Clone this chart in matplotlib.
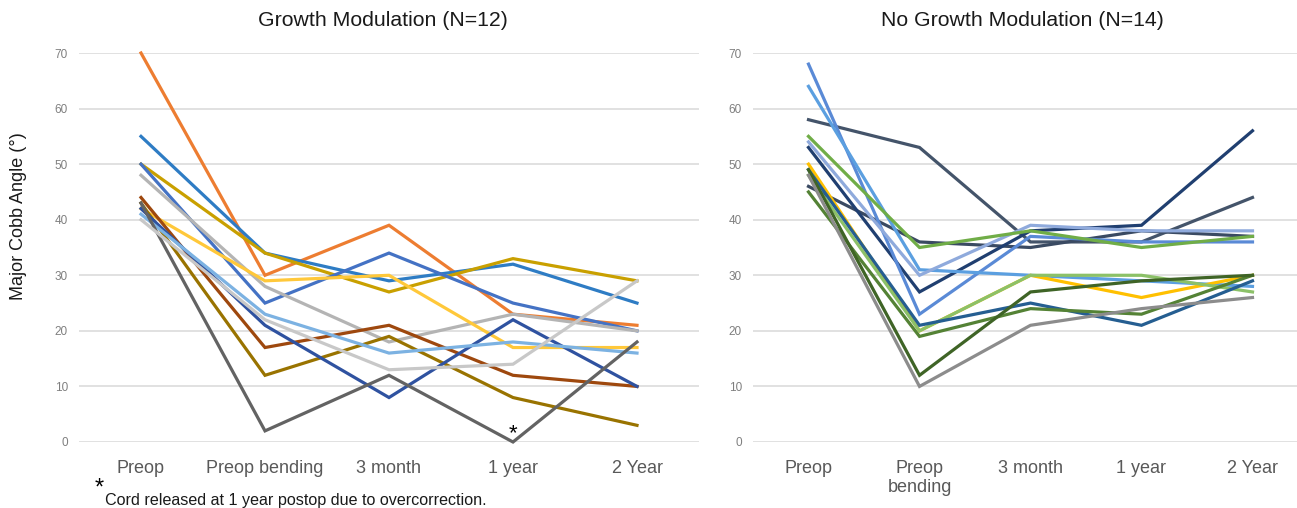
import matplotlib
matplotlib.use("Agg")
import matplotlib.pyplot as plt

plt.rcParams['font.family'] = ['Liberation Sans', 'DejaVu Sans']

# ---------------- data ----------------
timepoints_left = ["Preop", "Preop bending", "3 month", "1 year", "2 Year"]
timepoints_right = ["Preop", "Preop\nbending", "3 month", "1 year", "2 Year"]

# Growth Modulation (N=12)
gm_orange     = [70, 30, 39, 23, 21]
gm_blue       = [55, 34, 29, 32, 25]
gm_gold       = [50, 34, 27, 33, 29]
gm_royal      = [50, 25, 34, 25, 20]
gm_gray       = [48, 28, 18, 23, 20]
gm_yellow     = [42, 29, 30, 17, 17]
gm_brown      = [44, 17, 21, 12, 10]
gm_olive      = [43, 12, 19, 8, 3]
gm_darkblue   = [42, 21, 8, 22, 10]
gm_lightblue  = [41, 23, 16, 18, 16]
gm_darkgray   = [43, 2, 12, 0, 18]
gm_silver     = [40, 22, 13, 14, 29]

gm_series = [gm_orange, gm_blue, gm_gold, gm_royal, gm_gray, gm_yellow,
             gm_brown, gm_olive, gm_darkblue, gm_lightblue, gm_darkgray, gm_silver]
gm_colors = ["#ED7D31", "#2E7CC4", "#C9A000", "#4472C4", "#B4B4B4", "#FFC83A",
             "#9E480E", "#997300", "#2F52A0", "#7CB2E2", "#636363", "#C8C8C8"]

# No Growth Modulation (N=14)
ngm_blue68     = [68, 23, 37, 36, 36]
ngm_blue64     = [64, 31, 30, 29, 28]
ngm_slateA     = [58, 53, 36, 36, 44]
ngm_slateB     = [46, 36, 35, 38, 37]
ngm_navy       = [53, 27, 38, 39, 56]
ngm_lavender   = [54, 30, 39, 38, 38]
ngm_green      = [55, 35, 38, 35, 37]
ngm_yellow     = [50, 20, 30, 26, 30]
ngm_lightgreen = [48, 20, 30, 30, 27]
ngm_steel      = [49, 21, 25, 21, 29]
ngm_green2     = [45, 19, 24, 23, 30]
ngm_darkgreen  = [49, 12, 27, 29, 30]
ngm_gray       = [48, 10, 21, 24, 26]

ngm_series = [ngm_slateA, ngm_slateB, ngm_navy, ngm_blue68, ngm_blue64, ngm_lavender,
              ngm_green, ngm_yellow, ngm_lightgreen, ngm_steel, ngm_green2,
              ngm_darkgreen, ngm_gray]
ngm_colors = ["#44546A", "#3A4A62", "#203F70", "#5A8AD6", "#5B9FE0", "#8FAADC",
              "#70AD47", "#FFC000", "#8CC168", "#255E91", "#548235",
              "#3F6426", "#8C8C8C"]

# ---------------- figure ----------------
W, H = 1297, 508
fig = plt.figure(figsize=(W / 100, H / 100), dpi=100)


def px_axes(x0, x1, y_top, y_bot):
    return fig.add_axes([x0 / W, 1 - y_bot / H, (x1 - x0) / W, (y_bot - y_top) / H])


def style(ax, labels):
    ax.set_ylim(0, 70)
    ax.set_xlim(-0.5, len(labels) - 0.5)
    ax.set_yticks(range(0, 71, 10))
    ax.yaxis.grid(True, color="#D9D9D9", linewidth=1.1)
    ax.set_axisbelow(True)
    for s in ax.spines.values():
        s.set_visible(False)
    ax.tick_params(axis="both", length=0)
    ax.tick_params(axis="y", labelsize=8.5, labelcolor="#7F7F7F", pad=8)
    ax.tick_params(axis="x", labelsize=13, labelcolor="#595959", pad=13)
    ax.set_xticks(range(len(labels)))
    ax.set_xticklabels(labels)
    for t in ax.get_xticklabels():
        t.set_verticalalignment("top")
        t.set_linespacing(1.15)


ax1 = px_axes(79, 699, 53, 442)
style(ax1, timepoints_left)
x = list(range(len(timepoints_left)))
for vals, c in zip(gm_series, gm_colors):
    ax1.plot(x, vals, color=c, linewidth=2.3, solid_joinstyle="miter", clip_on=False)
ax1.text(3, -0.4, "*", ha="center", va="bottom", fontsize=16, color="black")

ax2 = px_axes(753, 1308, 53, 442)
style(ax2, timepoints_right)
for vals, c in zip(ngm_series, ngm_colors):
    ax2.plot(x, vals, color=c, linewidth=2.3, solid_joinstyle="miter", clip_on=False)

fig.text(383 / W, 1 - 21 / H, "Growth Modulation (N=12)", ha="center", va="center",
         fontsize=15.3, color="#1a1a1a")
fig.text(1022 / W, 1 - 21 / H, "No Growth Modulation (N=14)", ha="center", va="center",
         fontsize=15.3, color="#1a1a1a")
fig.text(19 / W, 1 - 216 / H, "Major Cobb Angle (°)", rotation=90, ha="center",
         va="center", fontsize=13, color="#1a1a1a")

fig.text(99 / W, 1 - 489 / H, "*", ha="center", va="center", fontsize=17, color="black")
fig.text(105 / W, 1 - 500 / H, "Cord released at 1 year postop due to overcorrection.",
         ha="left", va="center", fontsize=11.6, color="#1a1a1a")

fig.savefig("out.png", dpi=100, facecolor="white")
